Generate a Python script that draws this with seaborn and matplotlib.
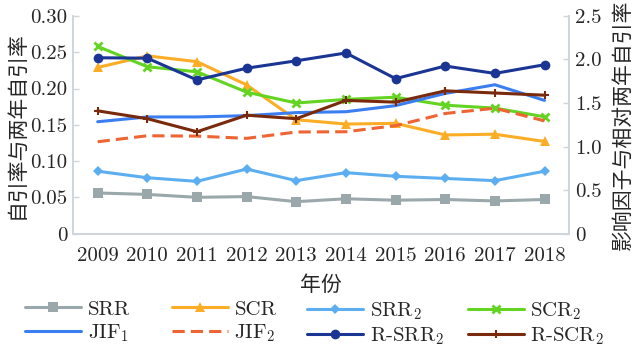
import numpy as np
import matplotlib
matplotlib.use("Agg")
import matplotlib.pyplot as plt
import seaborn as sns

# data
years = [2009, 2010, 2011, 2012, 2013, 2014, 2015, 2016, 2017, 2018]

# left axis (self-citation rates)
SRR = [0.056, 0.054, 0.050, 0.051, 0.044, 0.048, 0.046, 0.047, 0.045, 0.047]
SCR = [0.229, 0.245, 0.237, 0.205, 0.157, 0.151, 0.152, 0.136, 0.137, 0.127]
SRR2 = [0.086, 0.077, 0.072, 0.089, 0.073, 0.084, 0.079, 0.076, 0.073, 0.086]
SCR2 = [0.258, 0.230, 0.223, 0.195, 0.180, 0.185, 0.188, 0.177, 0.173, 0.161]

# right axis (impact factors, relative rates)
JIF1 = [1.285, 1.34, 1.34, 1.355, 1.39, 1.40, 1.47, 1.61, 1.71, 1.53]
JIF2 = [1.055, 1.124, 1.12, 1.094, 1.167, 1.17, 1.24, 1.38, 1.44, 1.295]
R_SRR2 = [2.02, 2.015, 1.765, 1.90, 1.985, 2.075, 1.78, 1.925, 1.84, 1.94]
R_SCR2 = [1.41, 1.32, 1.17, 1.36, 1.32, 1.53, 1.51, 1.64, 1.615, 1.59]

left_ticks = [0, 0.05, 0.10, 0.15, 0.20, 0.25, 0.30]
left_labels = ["0", "0.05", "0.10", "0.15", "0.20", "0.25", "0.30"]
right_ticks = [0, 0.5, 1.0, 1.5, 2.0, 2.5]
right_labels = ["0", "0.5", "1.0", "1.5", "2.0", "2.5"]

sns.set_style("white")
plt.rcParams['font.family'] = ['cmr10', 'Noto Sans CJK SC', 'DejaVu Sans']
plt.rcParams['mathtext.fontset'] = 'cm'
plt.rcParams['axes.unicode_minus'] = False

cjk = ['Noto Sans CJK SC', 'DejaVu Sans']
fs = 15
spine_c = '#cfd6dc'

fig = plt.figure(figsize=(6.39, 3.55), dpi=100)
ax = fig.add_axes([0.114, 0.342, 0.777, 0.613])
ax2 = ax.twinx()

lw = 2.2
c_srr, c_scr, c_srr2, c_scr2 = '#9aa8ab', '#fbad26', '#5caef0', '#63d421'
c_jif1, c_jif2, c_rsrr2, c_rscr2 = '#3b7ef2', '#ee6433', '#1b3595', '#7a2a0c'

sns.lineplot(x=years, y=SRR, ax=ax, color=c_srr, marker='s', markersize=6.5,
             markeredgecolor=c_srr, markeredgewidth=0, linewidth=lw, label='SRR')
sns.lineplot(x=years, y=SCR, ax=ax, color=c_scr, marker='^', markersize=7.5,
             markeredgecolor=c_scr, markeredgewidth=0, linewidth=lw, label='SCR')
sns.lineplot(x=years, y=SRR2, ax=ax, color=c_srr2, marker='D', markersize=5,
             markeredgecolor=c_srr2, markeredgewidth=0, linewidth=lw, label='SRR$_2$')
sns.lineplot(x=years, y=SCR2, ax=ax, color=c_scr2, marker='x', markersize=6,
             markeredgecolor=c_scr2, markeredgewidth=2, linewidth=lw, label='SCR$_2$')

sns.lineplot(x=years, y=JIF1, ax=ax2, color=c_jif1, linewidth=lw, label='JIF$_1$')
sns.lineplot(x=years, y=JIF2, ax=ax2, color=c_jif2, linewidth=lw, label='JIF$_2$')
ax2.lines[-1].set_dashes([4, 2])
sns.lineplot(x=years, y=R_SRR2, ax=ax2, color=c_rsrr2, marker='o', markersize=7,
             markeredgecolor=c_rsrr2, markeredgewidth=0, linewidth=lw, label='R-SRR$_2$')
sns.lineplot(x=years, y=R_SCR2, ax=ax2, color=c_rscr2, marker='+', markersize=6,
             markeredgecolor=c_rscr2, markeredgewidth=1.5, linewidth=lw,
             label='R-SCR$_2$')

ax.set_xlim(2008.5, 2018.5)
ax.set_ylim(0, 0.30)
ax2.set_ylim(0, 2.5)

ax.set_xticks(years)
ax.set_xticklabels([str(y) for y in years], fontsize=fs)
ax.set_xticks(np.arange(2009.5, 2018.5, 1), minor=True)
ax.tick_params(axis='x', which='major', length=0, pad=10)
ax.tick_params(axis='x', which='minor', direction='in', length=4, color=spine_c, width=1)

ax.set_yticks(left_ticks)
ax.set_yticklabels(left_labels, fontsize=fs)
ax.tick_params(axis='y', direction='in', length=4, color=spine_c, width=1, pad=4)
ax2.set_yticks(right_ticks)
ax2.set_yticklabels(right_labels, fontsize=fs)
ax2.tick_params(axis='y', direction='in', length=4, color=spine_c, width=1, pad=4)

for a in (ax, ax2):
    a.spines['top'].set_visible(False)
    for s in ('left', 'right', 'bottom'):
        a.spines[s].set_color(spine_c)
        a.spines[s].set_linewidth(1.2)

ax.set_xlabel('年份', fontsize=fs, family=cjk, labelpad=6)
ax.set_ylabel('自引率与两年自引率', fontsize=fs, family=cjk, labelpad=2)
ax2.set_ylabel('影响因子与相对两年自引率', fontsize=fs, family=cjk, rotation=90, labelpad=7)

# legend: four columns of two entries, each placed on its own
h1, lab1 = ax.get_legend_handles_labels()
h2, lab2 = ax2.get_legend_handles_labels()
ax.get_legend().remove()
ax2.get_legend().remove()
col_x = [25, 172, 307, 468]
for i, x0 in enumerate(col_x):
    fig.legend([h1[i], h2[i]], [lab1[i], lab2[i]], loc='upper left',
               bbox_to_anchor=(x0 / 639, 0.155), bbox_transform=fig.transFigure,
               frameon=False, fontsize=fs, handlelength=2.7, numpoints=1,
               labelspacing=0.18, handletextpad=0.3, borderpad=0, borderaxespad=0)

fig.savefig('out.png', dpi=100)
